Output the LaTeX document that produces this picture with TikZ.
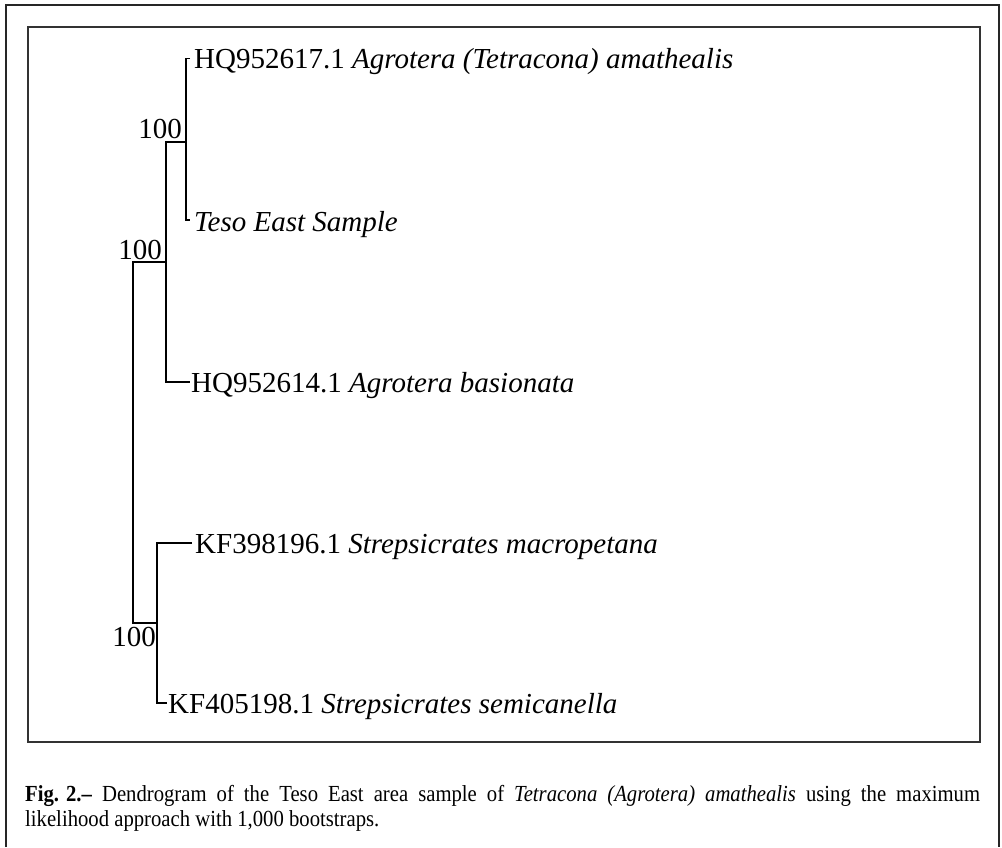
\documentclass[tikz,border=0pt]{standalone}
\usepackage{fontspec}
\setmainfont{Liberation Serif}
\newfontfamily\capfont[FakeStretch=0.9]{Liberation Serif}
\usetikzlibrary{positioning}

\begin{document}
\begin{tikzpicture}[x=1pt,y=-1pt,
    branch/.style={line width=1.9pt},
    taxon/.style={anchor=base west,inner sep=0pt,font=\fontsize{29}{34}\selectfont},
    boot/.style={inner sep=0pt,font=\fontsize{29}{34}\selectfont},
    outer/.style={line width=2.2pt,draw=black!85},
    inner/.style={line width=1.4pt,draw=black!80}]
  \useasboundingbox (0,0) rectangle (1002,847);
  \draw[outer] (6,847) -- (6,5) -- (999,5) -- (999,847);
  \draw[inner] (28,27) rectangle (980,742);
  % leaf tips and internal nodes
  \coordinate (t1) at (190,58.5);
  \coordinate (t2) at (190,220);
  \coordinate (t3) at (190,382);
  \coordinate (t4) at (192,543);
  \coordinate (t5) at (167,703);
  \coordinate (a) at (186,142);
  \coordinate (b) at (166,262);
  \coordinate (r) at (133,442);
  \coordinate (c) at (157,623);
  \node[taxon] (l1) at ([xshift=4pt,yshift=-10pt]t1) {HQ952617.1 \textit{Agrotera (Tetracona) amathealis}};
  \node[taxon] (l2) at ([xshift=4pt,yshift=-11pt]t2) {\textit{Teso East Sample}};
  \node[taxon] (l3) at ([xshift=1pt,yshift=-10pt]t3) {HQ952614.1 \textit{Agrotera basionata}};
  \node[taxon] (l4) at ([xshift=3pt,yshift=-10pt]t4) {KF398196.1 \textit{Strepsicrates macropetana}};
  \node[taxon] (l5) at ([xshift=1pt,yshift=-10pt]t5) {KF405198.1 \textit{Strepsicrates semicanella}};
  \draw[branch] (t1) -| (a) |- (t2);
  \draw[branch] (a) -| (b) |- (t3);
  \draw[branch] (b) -| (r) |- (c);
  \draw[branch] (t4) -| (c) |- (t5);
  % bootstrap values
  \node[boot,anchor=base east] (bsA) at ([xshift=-4pt,yshift=4pt]a) {100};
  \node[boot,anchor=base east] (bsB) at ([xshift=-4pt,yshift=3pt]b) {100};
  \node[boot,anchor=north east] (bsC) at ([xshift=-1pt,yshift=-4pt]c) {100};
  \node[anchor=north west,inner sep=0pt,text width=955pt,align=justify,
        font=\capfont\fontsize{23}{25.5}\selectfont] (cap) at (25,785)
    {\mbox{\textbf{Fig. 2.–}} Dendrogram of the Teso East area sample of \textit{Tetracona (Agrotera) amathealis} using the maximum\linebreak likelihood approach with 1,000 bootstraps.};
\end{tikzpicture}
\end{document}
